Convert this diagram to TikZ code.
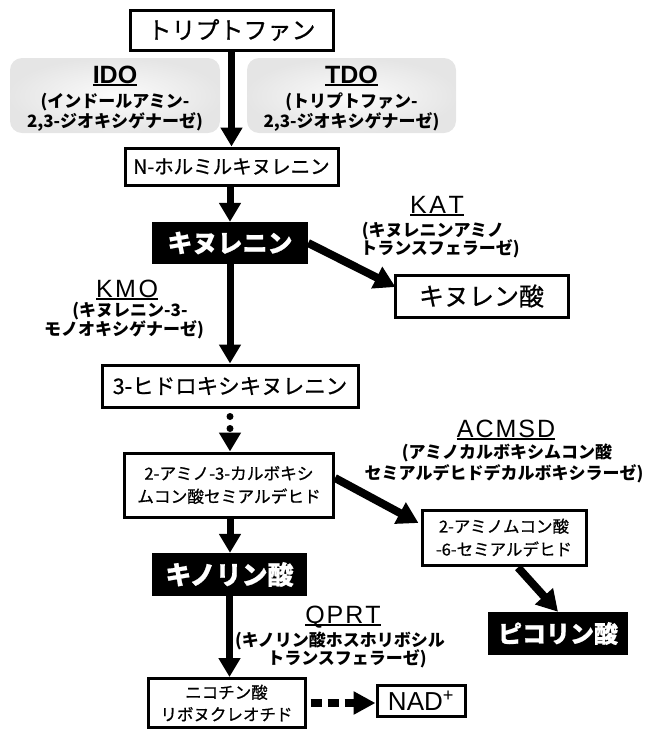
\documentclass[tikz,border=0pt]{standalone}
\usepackage{fontspec}
\setmainfont{Noto Sans CJK JP}
\newfontfamily\jpm{Noto Sans CJK JP}[FakeBold=0.7]
\newfontfamily\jph{Noto Sans CJK JP}[FakeBold=0.8]
\newfontfamily\lat{Liberation Sans}
\usetikzlibrary{arrows.meta,calc}
\newcommand\fs[1]{\fontsize{#1}{#1}\selectfont}
\newcommand\ul[1]{\setbox0\hbox{#1}\rlap{\rule[-3pt]{\wd0}{1.8pt}}\box0}
\tikzset{
  box/.style={draw, line width=3pt, fill=white, inner sep=0pt, align=center},
  blk/.style={fill=black, inner sep=0pt, text=white},
  enz/.style={inner sep=0pt, rounded corners=12pt, inner color=gray!3, outer color=gray!20},
  lbl/.style={inner sep=0pt, anchor=base},
  enzb/.style={lbl, font=\bfseries\fs{17}},
  arr/.style={line width=7pt, -{Triangle[length=19pt,width=21pt]}},
  darr/.style={line width=8pt, -{Triangle[length=21pt,width=23pt]}},
}
\begin{document}
\begin{tikzpicture}[x=1pt,y=-1pt]
\useasboundingbox (0,0) rectangle (649,729);

% enzyme backgrounds
\node[enz, minimum width=210pt, minimum height=75pt] (ido) at (115,95.5) {};
\node[enz, minimum width=209pt, minimum height=75pt] (tdo) at (351.5,95.5) {};

% metabolite boxes
\node[box, minimum width=203pt, minimum height=40pt, font=\jpm\fs{24}] (trp) at (231.5,30) {トリプトファン};
\node[box, minimum width=213pt, minimum height=37pt, font=\jpm\fs{19.5}] (nfk) at (231.5,166.5) {N-ホルミルキヌレニン};
\node[blk, minimum width=156pt, minimum height=42pt, font=\jph\bfseries\fs{25}] (kyn) at (230,243) {キヌレニン};
\node[box, minimum width=173pt, minimum height=42pt, font=\jpm\fs{25}] (kyna) at (481.5,296) {キヌレン酸};
\node[box, minimum width=256pt, minimum height=42pt, font=\jpm\fs{21.5}] (hk) at (230,386) {3-ヒドロキシキヌレニン};
\node[box, minimum width=209pt, minimum height=64pt, font=\jpm\fontsize{16.7}{23}\selectfont] (acms) at (229,485) {2-アミノ-3-カルボキシ\\ムコン酸セミアルデヒド};
\node[box, minimum width=164pt, minimum height=55pt, font=\jpm\fontsize{16.5}{23}\selectfont] (ams) at (504,537.5) {2-アミノムコン酸\\-6-セミアルデヒド};
\node[blk, minimum width=155pt, minimum height=43pt, font=\jph\bfseries\fs{26}] (quin) at (229.5,574.5) {キノリン酸};
\node[blk, minimum width=140pt, minimum height=43pt, font=\jph\bfseries\fs{24}] (pic) at (558,633.5) {ピコリン酸};
\node[box, minimum width=157pt, minimum height=49pt, font=\jpm\fontsize{16.5}{22}\selectfont] (nic) at (226.5,703) {ニコチン酸\\リボヌクレオチド};
\node[box, minimum width=88pt, minimum height=31pt, font=\lat\fs{26}] (nad) at (421,700.5) {NAD\textsuperscript{+}};

% enzyme labels
\node[lbl] (idoA) at (115,83) {\lat\bfseries\fs{25}\ul{IDO}};
\node[enzb] (idoB) at (115,107) {(インドールアミン-};
\node[enzb] (idoC) at (115,127) {2,3-ジオキシゲナーゼ)};
\node[lbl] (tdoA) at (351.5,83) {\lat\bfseries\fs{25}\ul{TDO}};
\node[enzb] (tdoB) at (351.5,107) {(トリプトファン-};
\node[enzb] (tdoC) at (351.5,127) {2,3-ジオキシゲナーゼ)};

\node[lbl] (katA) at (437,213) {\lat\fs{25}\ul{K\kern2.5pt A\kern2.5pt T}};
\node[enzb] (katB) at (433,236) {(キヌレニンアミノ};
\node[enzb] (katC) at (440,254) {トランスフェラーゼ)};

\node[lbl] (kmoA) at (127,297) {\lat\fs{25}\ul{K\kern2.5pt M\kern2.5pt O}};
\node[enzb] (kmoB) at (130,316) {(キヌレニン-3-};
\node[enzb] (kmoC) at (124,335) {モノオキシゲナーゼ)};

\node[lbl] (acA) at (506,437) {\lat\fs{25}\ul{A\kern2pt C\kern2pt M\kern2pt S\kern2pt D}};
\node[enzb] (acB) at (507,458) {(アミノカルボキシムコン酸};
\node[enzb] (acC) at (504,479) {セミアルデヒドデカルボキシラーゼ)};

\node[lbl] (qA) at (343,623) {\lat\fs{25}\ul{Q\kern2pt P\kern2pt R\kern2pt T}};
\node[enzb] (qB) at (340,646) {(キノリン酸ホスホリボシル};
\node[enzb] (qC) at (347,664) {トランスフェラーゼ)};

% connectors
\draw[arr] (trp.south) -- (trp.south |- nfk.north);
\draw[arr] (nfk.south -| kyn.north) -- (kyn.north);
\draw[darr] (kyn.east) -- ($(kyna.west)+(2,-9)$);
\draw[arr] (kyn.south) -- (kyn.south |- hk.north);
\draw[arr, line cap=round, dash pattern=on 0pt off 12pt, dash phase=4pt] (hk.south) -- (hk.south |- acms.north);
\draw[darr] ($(acms.east)+(0,-7)$) -- ($(ams.west)+(-2,-14.5)$);
\draw[darr] ($(ams.south)+(14,1)$) -- (pic.north);
\draw[arr] (acms.south -| hk.south) -- (hk.south |- quin.north);
\draw[arr] (quin.south) -- (quin.south |- nic.north);
\draw[line width=8pt, dash pattern=on 11pt off 6pt, -{Triangle[length=22pt,width=22pt]}, shorten <=4pt] (nic.east) -- (nic.east -| nad.west);
\end{tikzpicture}
\end{document}
